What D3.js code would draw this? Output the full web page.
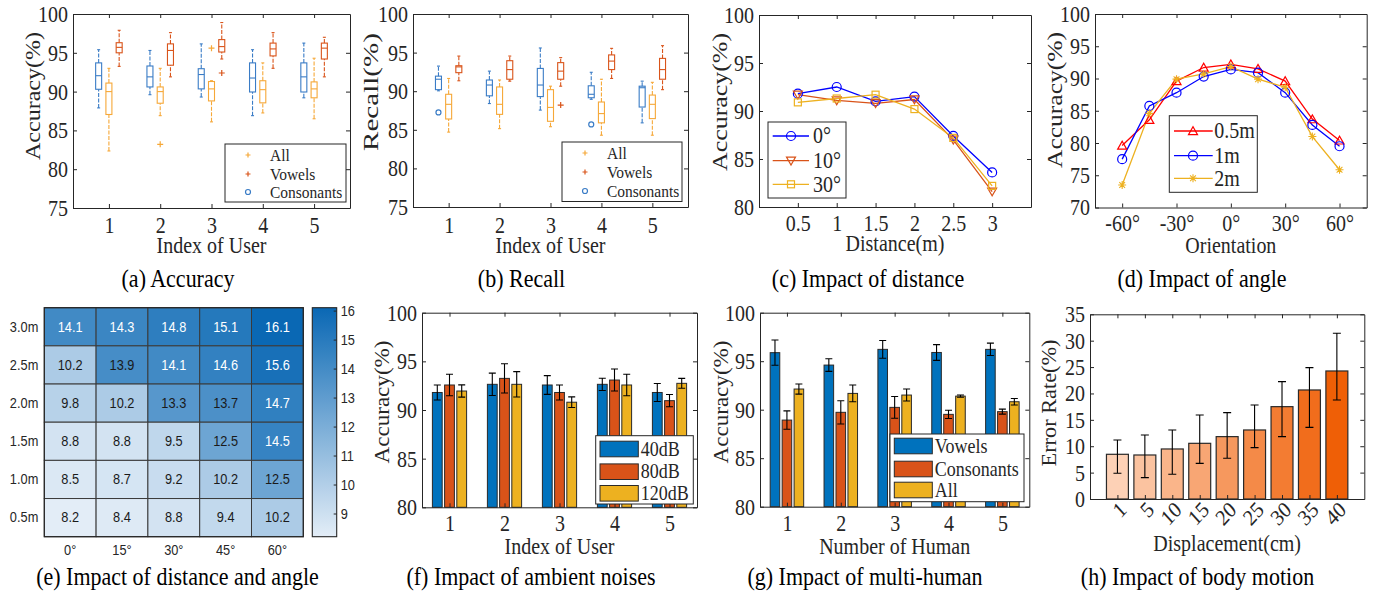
<!DOCTYPE html>
<html><head><meta charset="utf-8">
<script src="https://cdn.jsdelivr.net/npm/d3@7"></script>
<style>body{margin:0;background:#fff;}svg{display:block;}</style>
</head><body>
<svg id="c" width="1377" height="597"></svg>
<script>
// ================= DATA =================
const users = [1, 2, 3, 4, 5];
// box statistics: [lower whisker, Q1, median, Q3, upper whisker]
const accConsonants = [[87.9,90.3,92.05,93.7,95.4],[89.6,90.6,91.9,93.3,95.3],[89.3,90.35,92.2,92.95,96.15],[86.9,89.95,91.75,93.7,95.4],[89.2,89.95,91.9,93.7,96.25]];
const accAll        = [[82.35,87.05,90.0,91.1,93.0],[86.9,88.5,90.0,90.6,93.0],[86.1,88.8,90.35,91.3,91.4],[87.25,88.55,90.25,91.4,93.7],[86.5,89.2,90.35,91.25,94.3]];
const accVowels     = [[93.25,95.0,95.7,96.3,97.9],[91.9,93.4,95.3,96.15,97.6],[94.2,95.1,95.8,96.7,98.9],[93.0,94.6,95.5,96.25,97.6],[91.9,94.2,95.6,96.25,97.0]];
const accConsonantsOut = [[],[],[],[],[]];
const accAllOut        = [[],[83.2],[95.6],[],[]];
const accVowelsOut     = [[],[],[92.4],[],[]];

const recConsonants = [[90.05,90.2,91.55,91.95,93.25],[88.4,89.4,90.8,91.45,92.6],[87.55,89.3,90.8,92.95,95.6],[88.95,89.15,89.6,90.7,92.45],[85.9,87.95,90.45,90.65,91.3]];
const recAll        = [[84.7,86.4,88.3,89.6,91.65],[85.15,87.0,88.3,90.55,91.45],[85.4,86.1,87.9,90.2,90.65],[84.3,85.9,87.1,88.6,91.55],[84.3,86.45,88.3,89.5,91.15]];
const recVowels     = [[91.35,92.4,93.15,93.3,94.55],[91.3,91.55,92.8,93.95,94.55],[90.65,91.55,92.6,93.7,94.35],[91.65,92.8,93.9,94.7,95.55],[90.2,91.55,92.8,94.25,95.9]];
const recConsonantsOut = [[87.25],[],[],[85.7],[]];
const recAllOut        = [[],[],[],[],[]];
const recVowelsOut     = [[],[],[88.2],[],[]];
const boxLegend = ['All', 'Vowels', 'Consonants'];

const distances = [0.5, 1, 1.5, 2, 2.5, 3];
const dist0  = [91.8, 92.5, 91.0, 91.5, 87.4, 83.6];
const dist10 = [91.7, 91.1, 90.8, 91.2, 87.0, 81.6];
const dist30 = [90.9, 91.3, 91.7, 90.2, 87.2, 82.2];
const distLegend = ['0°', '10°', '30°'];

const orientations = [-60, -45, -30, -15, 0, 15, 30, 45, 60];
const orientTicks = [-60, -30, 0, 30, 60];
const ang05 = [79.6, 83.6, 89.6, 91.7, 92.2, 91.5, 89.6, 83.7, 80.4];
const ang1  = [77.5, 85.75, 87.8, 90.3, 91.4, 90.9, 87.8, 82.8, 79.5];
const ang2  = [73.5, 84.6, 89.9, 90.7, 91.85, 89.9, 88.65, 81.0, 75.85];
const angLegend = ['0.5m', '1m', '2m'];

const hmAngles = ['0°', '15°', '30°', '45°', '60°'];
const hmDistances = ['3.0m', '2.5m', '2.0m', '1.5m', '1.0m', '0.5m'];
const hmValues = [
  [14.1, 14.3, 14.8, 15.1, 16.1],
  [10.2, 13.9, 14.1, 14.6, 15.6],
  [9.8, 10.2, 13.3, 13.7, 14.7],
  [8.8, 8.8, 9.5, 12.5, 14.5],
  [8.5, 8.7, 9.2, 10.2, 12.5],
  [8.2, 8.4, 8.8, 9.4, 10.2]];
const cbTicks = [9, 10, 11, 12, 13, 14, 15, 16];

const noiseLegend = ['40dB', '80dB', '120dB'];
const noise40  = [91.8, 92.64, 92.57, 92.64, 91.8];
const noise80  = [92.57, 93.25, 91.8, 93.08, 90.96];
const noise120 = [91.95, 92.64, 90.8, 92.57, 92.74];
const noise40Err  = [0.77, 1.15, 0.96, 0.63, 0.92];
const noise80Err  = [1.1, 1.5, 0.77, 1.13, 0.63];
const noise120Err = [0.63, 1.3, 0.55, 1.1, 0.51];

const humans = [1, 2, 3, 4, 5];
const mhLegend = ['Vowels', 'Consonants', 'All'];
const mhVowels     = [95.88, 94.6, 96.22, 95.9, 96.22];
const mhConsonants = [88.93, 89.73, 90.24, 89.52, 89.8];
const mhAll        = [92.13, 91.68, 91.51, 91.4, 90.82];
const mhVowelsErr     = [1.3, 0.65, 0.91, 0.81, 0.64];
const mhConsonantsErr = [0.95, 1.2, 1.12, 0.43, 0.26];
const mhAllErr        = [0.52, 0.86, 0.62, 0.12, 0.34];

const displacements = ['1', '5', '10', '15', '20', '25', '30', '35', '40'];
const motionErr  = [8.47, 8.34, 9.48, 10.55, 11.82, 13.08, 17.5, 20.66, 24.26];
const motionLow  = [4.87, 4.05, 4.68, 6.76, 7.71, 9.73, 11.82, 13.58, 18.77];
const motionHigh = [11.18, 12.13, 13.08, 15.92, 16.36, 17.82, 22.24, 24.9, 31.4];

const captions = ['(a) Accuracy', '(b) Recall', '(c) Impact of distance', '(d) Impact of angle',
  '(e) Impact of distance and angle', '(f) Impact of ambient noises', '(g) Impact of multi-human', '(h) Impact of body motion'];

// ================= STYLE =================
const SY = 1.12;
const FS = 20;
const SERIF = "'Liberation Serif','Times New Roman',serif";
const SANS = "'Liberation Sans',Arial,Helvetica,sans-serif";
const AX = '#262626';
const C_BLUE = '#0072BD', C_RED = '#D95319', C_YEL = '#EDB120';
const svg = d3.select('#c');

function label(g, x, y, s, o = {}) {
  const t = g.append('text')
    .attr('transform', `translate(${x},${y}) scale(1,${o.sy ?? SY})` + (o.rot ? ` rotate(${o.rot})` : ''))
    .attr('text-anchor', o.anchor || 'middle')
    .attr('font-family', o.family || SERIF)
    .attr('font-size', o.size || FS)
    .attr('fill', o.fill || AX)
    .text(s);
  if (o.len) t.attr('textLength', o.len).attr('lengthAdjust', 'spacingAndGlyphs');
  return t;
}

function styleAxis(sel) {
  sel.attr('font-family', SERIF).attr('font-size', FS);
  sel.select('.domain').attr('stroke', AX);
  sel.selectAll('.tick line').attr('stroke', AX);
  sel.selectAll('.tick text').attr('fill', AX);
}

function frame(g, x, y, o) {
  const [xa, xb] = x.range(); const [yb, ya] = y.range();
  const tl = 4;
  const xf = o.xFmt || (d => d);
  const gb = g.append('g').attr('transform', `translate(0,${yb})`)
    .call(d3.axisBottom(x).tickValues(o.xTicks).tickFormat(xf).tickSizeInner(-tl).tickSizeOuter(0));
  styleAxis(gb);
  if (o.rotX) {
    gb.selectAll('.tick text').attr('y', 0).attr('dy', 0).attr('text-anchor', 'end')
      .attr('transform', `translate(10,${o.xTickBase - yb}) scale(1,${SY}) rotate(-45)`);
  } else {
    gb.selectAll('.tick text').attr('dy', 0).attr('y', (o.xTickBase - yb) / SY).attr('transform', `scale(1,${SY})`);
  }
  const gt = g.append('g').attr('transform', `translate(0,${ya})`)
    .call(d3.axisTop(x).tickValues(o.xTicks).tickFormat(() => '').tickSizeInner(-tl).tickSizeOuter(0));
  styleAxis(gt);
  const gl = g.append('g').attr('transform', `translate(${xa},0)`)
    .call(d3.axisLeft(y).tickValues(o.yTicks).tickSizeInner(-tl).tickSizeOuter(0).tickPadding(5));
  styleAxis(gl);
  gl.selectAll('.tick text').attr('dy', 0).attr('y', 0.33 * FS).attr('transform', `scale(1,${SY})`);
  const gr = g.append('g').attr('transform', `translate(${xb},0)`)
    .call(d3.axisRight(y).tickValues(o.yTicks).tickFormat(() => '').tickSizeInner(-tl).tickSizeOuter(0));
  styleAxis(gr);
  // axis titles
  label(g, (xa + xb) / 2, o.xLabelBase, o.xLabel);
  label(g, o.yLabelX, o.yLabelY, o.yLabel, { rot: -90, size: 21, sy: 1, len: o.yLabelLen });
}

function legendBox(g, x0, y0, x1, y1) {
  g.append('rect').attr('x', x0).attr('y', y0).attr('width', x1 - x0).attr('height', y1 - y0)
    .attr('fill', '#fff').attr('stroke', AX).attr('stroke-width', 1);
}

// marker drawing
function marker(g, type, cx, cy, color, s) {
  if (type === 'circle') {
    g.append('circle').attr('cx', cx).attr('cy', cy).attr('r', s).attr('fill', 'none').attr('stroke', color).attr('stroke-width', 1.2);
  } else if (type === 'tridown') {
    g.append('path').attr('d', `M${cx - s},${cy - s * 0.8}L${cx + s},${cy - s * 0.8}L${cx},${cy + s * 0.95}Z`).attr('fill', 'none').attr('stroke', color).attr('stroke-width', 1.2);
  } else if (type === 'triup') {
    g.append('path').attr('d', `M${cx - s},${cy + s * 0.8}L${cx + s},${cy + s * 0.8}L${cx},${cy - s * 0.95}Z`).attr('fill', 'none').attr('stroke', color).attr('stroke-width', 1.2);
  } else if (type === 'square') {
    g.append('rect').attr('x', cx - s).attr('y', cy - s).attr('width', 2 * s).attr('height', 2 * s).attr('fill', 'none').attr('stroke', color).attr('stroke-width', 1.2);
  } else if (type === 'plus') {
    g.append('path').attr('d', `M${cx - s},${cy}H${cx + s}M${cx},${cy - s}V${cy + s}`).attr('stroke', color).attr('stroke-width', 1.2);
  } else if (type === 'asterisk') {
    const d = s * 0.72;
    g.append('path').attr('d', `M${cx - s},${cy}H${cx + s}M${cx},${cy - s}V${cy + s}M${cx - d},${cy - d}L${cx + d},${cy + d}M${cx - d},${cy + d}L${cx + d},${cy - d}`)
      .attr('stroke', color).attr('stroke-width', 1.1);
  }
}

// ================= (a),(b) BOX PLOTS =================
function boxplot(g, x, y, stats, outs, off, color, outType) {
  users.forEach((u, i) => {
    const s = stats[i]; const cx = x(u + off); const w = 6;
    const dash = '4,1.5';
    g.append('line').attr('x1', cx).attr('x2', cx).attr('y1', y(s[3])).attr('y2', y(s[4])).attr('stroke', color).attr('stroke-dasharray', dash).attr('stroke-width', 1.1);
    g.append('line').attr('x1', cx).attr('x2', cx).attr('y1', y(s[0])).attr('y2', y(s[1])).attr('stroke', color).attr('stroke-dasharray', dash).attr('stroke-width', 1.1);
    [s[0], s[4]].forEach(v => g.append('line').attr('x1', cx - w / 4).attr('x2', cx + w / 4).attr('y1', y(v)).attr('y2', y(v)).attr('stroke', color).attr('stroke-width', 1.1));
    g.append('rect').attr('x', cx - w / 2).attr('y', y(s[3])).attr('width', w).attr('height', y(s[1]) - y(s[3]))
      .attr('fill', 'none').attr('stroke', color).attr('stroke-width', 1.1);
    g.append('line').attr('x1', cx - w / 2).attr('x2', cx + w / 2).attr('y1', y(s[2])).attr('y2', y(s[2])).attr('stroke', color).attr('stroke-width', 1.1);
    outs[i].forEach(v => marker(g, outType, cx, y(v), color, outType === 'circle' ? 2.5 : 3));
  });
}

const B_BLUE = '#3a7cc6', B_YEL = '#f6a838', B_RED = '#d9541a';

function boxPanel(box, cons, all, vow, consOut, allOut, vowOut, yLabel, yl, leg) {
  const g = svg.append('g');
  const x = d3.scaleLinear().domain([0.3, 5.7]).range([box[0], box[1]]);
  const y = d3.scaleLinear().domain([75, 100]).range([box[3], box[2]]);
  boxplot(g, x, y, cons, consOut, -0.2, B_BLUE, 'circle');
  boxplot(g, x, y, all, allOut, 0, B_YEL, 'plus');
  boxplot(g, x, y, vow, vowOut, 0.2, B_RED, 'plus');
  frame(g, x, y, { xTicks: users, yTicks: [75, 80, 85, 90, 95, 100], xTickBase: 233.5, xLabel: 'Index of User', xLabelBase: 252.5, yLabel, yLabelX: yl[0], yLabelY: yl[1], yLabelLen: yl[2] });
  legendBox(g, leg[0], leg[1], leg[2], leg[3]);
  const cols = [B_YEL, B_RED, B_BLUE], types = ['plus', 'plus', 'circle'];
  boxLegend.forEach((t, i) => {
    const cy = leg[5][i];
    marker(g, types[i], leg[4], cy, cols[i], 2.5);
    label(g, leg[4] + 22, cy + 5.5, t, { anchor: 'start', size: 15.5 });
  });
}
boxPanel([73, 350, 14, 208], accConsonants, accAll, accVowels, accConsonantsOut, accAllOut, accVowelsOut, 'Accuracy(%)', [40, 96, 128],
  [225, 144, 346, 202, 248, [155, 174, 192]]);
boxPanel([413, 688, 14, 207], recConsonants, recAll, recVowels, recConsonantsOut, recAllOut, recVowelsOut, 'Recall(%)', [378, 92, 118],
  [562, 142, 682, 201.5, 585, [153, 172, 191]]);

// ================= (c) DISTANCE =================
(function () {
  const g = svg.append('g');
  const x = d3.scaleLinear().domain([0, 3.5]).range([759, 1031]);
  const y = d3.scaleLinear().domain([80, 100]).range([207, 15]);
  const series = [[dist0, '#0000FF', 'circle', 4.5], [dist10, C_RED, 'tridown', 4.5], [dist30, C_YEL, 'square', 3.5]];
  series.forEach(([vals, col]) => {
    g.append('path').datum(vals).attr('fill', 'none').attr('stroke', col).attr('stroke-width', 1.3)
      .attr('d', d3.line().x((d, i) => x(distances[i])).y(d => y(d)));
  });
  series.forEach(([vals, col, type, s]) => vals.forEach((v, i) => marker(g, type, x(distances[i]), y(v), col, s)));
  frame(g, x, y, { xTicks: distances, yTicks: [80, 85, 90, 95, 100], xTickBase: 231.5, xLabel: 'Distance(m)', xLabelBase: 251, yLabel: 'Accuracy(%)', yLabelX: 727, yLabelY: 102, yLabelLen: 138 });
  legendBox(g, 768, 122, 846, 198);
  [136, 160.7, 184.3].forEach((cy, i) => {
    const [, col, type, s] = series[i];
    g.append('line').attr('x1', 772.7).attr('x2', 809).attr('y1', cy).attr('y2', cy).attr('stroke', col).attr('stroke-width', 1.3);
    marker(g, type, 791, cy, col, s);
    label(g, 813, cy + 7.3, distLegend[i], { anchor: 'start', size: 20 });
  });
})();

// ================= (d) ANGLE =================
(function () {
  const g = svg.append('g');
  const x = d3.scaleLinear().domain([-75, 75]).range([1095, 1366.7]);
  const y = d3.scaleLinear().domain([70, 100]).range([207.5, 14]);
  const series = [[ang05, '#FF0000', 'triup', 4.5], [ang1, '#0000FF', 'circle', 4.5], [ang2, C_YEL, 'asterisk', 4]];
  series.forEach(([vals, col]) => {
    g.append('path').datum(vals).attr('fill', 'none').attr('stroke', col).attr('stroke-width', 1.3)
      .attr('d', d3.line().x((d, i) => x(orientations[i])).y(d => y(d)));
  });
  series.forEach(([vals, col, type, s]) => vals.forEach((v, i) => marker(g, type, x(orientations[i]), y(v), col, s)));
  frame(g, x, y, { xTicks: orientTicks, xFmt: d => d + '°', yTicks: [70, 75, 80, 85, 90, 95, 100], xTickBase: 231, xLabel: 'Orientation', xLabelBase: 252.5, yLabel: 'Accuracy(%)', yLabelX: 1062, yLabelY: 100, yLabelLen: 136 });
  legendBox(g, 1169.3, 115.7, 1257.3, 192.3);
  [131, 155.7, 178.3].forEach((cy, i) => {
    const [, col, type, s] = series[i];
    g.append('line').attr('x1', 1174).attr('x2', 1212.7).attr('y1', cy).attr('y2', cy).attr('stroke', col).attr('stroke-width', 1.3);
    marker(g, type, 1193, cy, col, s);
    label(g, 1214.3, cy + 7.3, angLegend[i], { anchor: 'start', size: 20 });
  });
})();

// ================= (e) HEATMAP =================
(function () {
  const g = svg.append('g');
  const x = d3.scaleBand().domain(hmAngles).range([44.3, 303.3]);
  const y = d3.scaleBand().domain(hmDistances).range([307.7, 536.7]);
  const vmin = d3.min(hmValues.flat()), vmax = d3.max(hmValues.flat());
  const col = d3.scaleLinear().domain([vmin, vmax]).range(['#e3edf7', '#0a68b4']).interpolate(d3.interpolateRgb);
  hmDistances.forEach((r, ri) => hmAngles.forEach((c, ci) => {
    const v = hmValues[ri][ci];
    g.append('rect').attr('x', x(c)).attr('y', y(r)).attr('width', x.bandwidth()).attr('height', y.bandwidth())
      .attr('fill', col(v)).attr('stroke', '#3a3a3a').attr('stroke-width', 1);
    label(g, x(c) + x.bandwidth() / 2, y(r) + y.bandwidth() / 2 + 4.8, v.toFixed(1),
      { family: SANS, size: 12.8, fill: v >= 14 ? '#ffffff' : '#1a1a1a' });
  }));
  g.append('rect').attr('x', 44.3).attr('y', 307.7).attr('width', 259).attr('height', 229).attr('fill', 'none').attr('stroke', '#262626').attr('stroke-width', 1.2);
  hmDistances.forEach(r => label(g, 38.3, y(r) + y.bandwidth() / 2 + 4.8, r, { family: SANS, size: 12.8, anchor: 'end' }));
  hmAngles.forEach(c => label(g, x(c) + x.bandwidth() / 2, 555, c, { family: SANS, size: 12.8 }));
  // colorbar
  const cy = d3.scaleLinear().domain([vmin, vmax]).range([536.7, 307.7]);
  const defs = svg.append('defs');
  const grad = defs.append('linearGradient').attr('id', 'cbg').attr('x1', 0).attr('y1', 1).attr('x2', 0).attr('y2', 0);
  d3.range(0, 1.0001, 0.1).forEach(t => grad.append('stop').attr('offset', t).attr('stop-color', col(vmin + t * (vmax - vmin))));
  g.append('rect').attr('x', 312.3).attr('y', 307.7).attr('width', 24.4).attr('height', 229).attr('fill', 'url(#cbg)').attr('stroke', '#262626').attr('stroke-width', 1.1);
  const ga = g.append('g').attr('transform', 'translate(336.7,0)')
    .call(d3.axisRight(cy).tickValues(cbTicks).tickSizeInner(-3).tickSizeOuter(0).tickPadding(4));
  ga.select('.domain').remove();
  ga.selectAll('.tick line').attr('stroke', AX);
  ga.selectAll('.tick text').attr('dy', 0).attr('y', 4.3).attr('font-family', SANS).attr('font-size', 12.8).attr('fill', AX).attr('transform', `scale(1,${SY})`);
  ga.attr('font-family', SANS);
})();

// ================= (f),(g) GROUPED BARS =================
function groupedBars(box, cats, vals, errs, cols, yl, xLabel, leg, legNames) {
  const g = svg.append('g');
  const x = d3.scaleLinear().domain([0.5, 5.5]).range([box[0], box[1]]);
  const y = d3.scaleLinear().domain([80, 100]).range([box[3], box[2]]);
  const step = 0.222, bw = 0.178;
  vals.forEach((ser, si) => ser.forEach((v, i) => {
    const cx = x(cats[i] + (si - 1) * step);
    const w = x(bw) - x(0);
    g.append('rect').attr('x', cx - w / 2).attr('y', y(v)).attr('width', w).attr('height', y(80) - y(v))
      .attr('fill', cols[si]).attr('stroke', '#2a2a2a').attr('stroke-width', 1);
  }));
  vals.forEach((ser, si) => ser.forEach((v, i) => {
    const cx = x(cats[i] + (si - 1) * step); const e = errs[si][i];
    g.append('path').attr('d', `M${cx},${y(v - e)}V${y(v + e)}M${cx - 3.5},${y(v + e)}H${cx + 3.5}M${cx - 3.5},${y(v - e)}H${cx + 3.5}`)
      .attr('stroke', '#000').attr('stroke-width', 1.1).attr('fill', 'none');
  }));
  frame(g, x, y, { xTicks: cats, yTicks: [80, 85, 90, 95, 100], xTickBase: 531.5, xLabel, xLabelBase: 554, yLabel: 'Accuracy(%)', yLabelX: yl[0], yLabelY: yl[1], yLabelLen: yl[2] });
  legendBox(g, leg[0], leg[1], leg[2], leg[3]);
  leg[6].forEach((cy, i) => {
    g.append('rect').attr('x', leg[4]).attr('y', cy - 7.8).attr('width', leg[5] - leg[4]).attr('height', 15.6)
      .attr('fill', cols[i]).attr('stroke', '#2a2a2a').attr('stroke-width', 1);
    label(g, leg[5] + 2.5, cy + 6.6, legNames[i], { anchor: 'start', size: 18 });
  });
}
groupedBars([422, 697, 312.7, 507.3], users, [noise40, noise80, noise120], [noise40Err, noise80Err, noise120Err],
  [C_BLUE, C_RED, C_YEL], [389, 402, 123], 'Index of User', [595.7, 435.7, 693.3, 504, 600, 638.3, [449, 471.7, 493.3]], noiseLegend);
groupedBars([760, 1029.3, 312.7, 506.7], humans, [mhVowels, mhConsonants, mhAll], [mhVowelsErr, mhConsonantsErr, mhAllErr],
  [C_BLUE, C_RED, C_YEL], [727.5, 402, 123], 'Number of Human', [890, 434, 1024, 501.7, 894.3, 932.3, [446, 469, 490]], mhLegend);

// ================= (h) BODY MOTION =================
(function () {
  const g = svg.append('g');
  const idx = d3.range(1, displacements.length + 1);
  const x = d3.scaleLinear().domain([0, 10]).range([1090, 1364.3]);
  const y = d3.scaleLinear().domain([0, 35]).range([499, 314.3]);
  const col = d3.scaleLinear().domain([1, displacements.length]).range(['#fdd1b6', '#ef5f06']).interpolate(d3.interpolateRgb);
  const w = x(0.8) - x(0);
  motionErr.forEach((v, i) => {
    g.append('rect').attr('x', x(idx[i]) - w / 2).attr('y', y(v)).attr('width', w).attr('height', y(0) - y(v))
      .attr('fill', col(idx[i])).attr('stroke', '#2a2a2a').attr('stroke-width', 1.2);
  });
  motionErr.forEach((v, i) => {
    const cx = x(idx[i]);
    g.append('path').attr('d', `M${cx},${y(motionLow[i])}V${y(motionHigh[i])}M${cx - 4},${y(motionHigh[i])}H${cx + 4}M${cx - 4},${y(motionLow[i])}H${cx + 4}`)
      .attr('stroke', '#000').attr('stroke-width', 1.1).attr('fill', 'none');
  });
  frame(g, x, y, { xTicks: idx, xFmt: d => displacements[d - 1], rotX: true, yTicks: d3.range(0, 36, 5), xTickBase: 511, xLabel: 'Displacement(cm)', xLabelBase: 551, yLabel: 'Error Rate(%)', yLabelX: 1055.5, yLabelY: 403, yLabelLen: 127 });
})();

// ================= CAPTIONS =================
const capX = [178, 521.5, 868, 1202, 177.5, 531, 865, 1197.5];
captions.forEach((c, i) => label(svg, capX[i], i < 4 ? 286.5 : 585, c, { size: 22, fill: '#000' }));
</script>
</body></html>
